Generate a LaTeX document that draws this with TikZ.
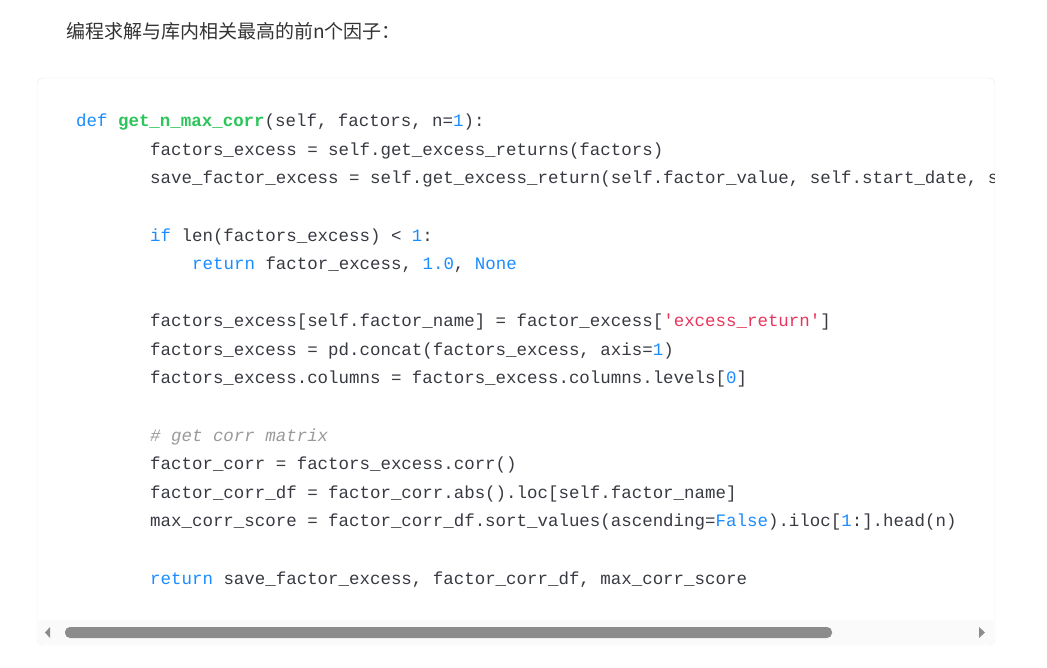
\documentclass[tikz,border=0pt]{standalone}
\usepackage{fontspec}
\setmonofont{Liberation Mono}
\newfontfamily\cjk{Noto Sans CJK SC}
\definecolor{kw}{HTML}{1A8CFF}
\definecolor{fn}{HTML}{2CC55A}
\definecolor{st}{HTML}{E8365D}
\definecolor{cm}{HTML}{9A9A9A}
\definecolor{tx}{HTML}{383A42}
\begin{document}
\begin{tikzpicture}[x=1pt,y=-1pt,
  code/.style={anchor=west,inner sep=0pt,font=\ttfamily\fontsize{17.45}{20}\selectfont,text=tx}]
\useasboundingbox[fill=white] (0,0) rectangle (1047,667);
\node[anchor=west,inner sep=0pt,font=\cjk\fontsize{19}{22}\selectfont,text=black!80] (h) at (66,31) {编程求解与库内相关最高的前n个因子：};
\draw[draw=black!8,fill=white,rounded corners=6] (37,78) rectangle (995,645);
\fill[fill=black!2] (38,620) rectangle (994,644);
\begin{scope}
\clip (38,79) rectangle (994,619);
\node[code] (l1) at (76,122) {\textcolor{kw}{def} \textcolor{fn}{\bfseries get\_n\_max\_corr}(self, factors, n=\textcolor{kw}{1}):};
\node[code] (l2) at (150,151) {factors\_excess = self.get\_excess\_returns(factors)};
\node[code] (l3) at (150,179) {save\_factor\_excess = self.get\_excess\_return(self.factor\_value, self.start\_date, self.end\_date)};
\node[code] (l4) at (150,237) {\textcolor{kw}{if} len(factors\_excess) < \textcolor{kw}{1}:};
\node[code] (l5) at (192,265) {\textcolor{kw}{return} factor\_excess, \textcolor{kw}{1.0}, \textcolor{kw}{None}};
\node[code] (l6) at (150,322) {factors\_excess[self.factor\_name] = factor\_excess[\textcolor{st}{'excess\_return'}]};
\node[code] (l7) at (150,351) {factors\_excess = pd.concat(factors\_excess, axis=\textcolor{kw}{1})};
\node[code] (l8) at (150,379) {factors\_excess.columns = factors\_excess.columns.levels[\textcolor{kw}{0}]};
\node[code,text=cm,font=\ttfamily\itshape\fontsize{17.45}{20}\selectfont] (l9) at (150,437) {\# get corr matrix};
\node[code] (l10) at (150,465) {factor\_corr = factors\_excess.corr()};
\node[code] (l11) at (150,494) {factor\_corr\_df = factor\_corr.abs().loc[self.factor\_name]};
\node[code] (l12) at (150,522) {max\_corr\_score = factor\_corr\_df.sort\_values(ascending=\textcolor{kw}{False}).iloc[\textcolor{kw}{1}:].head(n)};
\node[code] (l13) at (150,580) {\textcolor{kw}{return} save\_factor\_excess, factor\_corr\_df, max\_corr\_score};
\end{scope}
\fill[black!45,rounded corners=5] (65,627) rectangle (832,638);
\fill[black!45] (50,627) -- (50,638) -- (45,632.5) -- cycle;
\fill[black!45] (979,627) -- (979,638) -- (985,632.5) -- cycle;
\end{tikzpicture}
\end{document}
